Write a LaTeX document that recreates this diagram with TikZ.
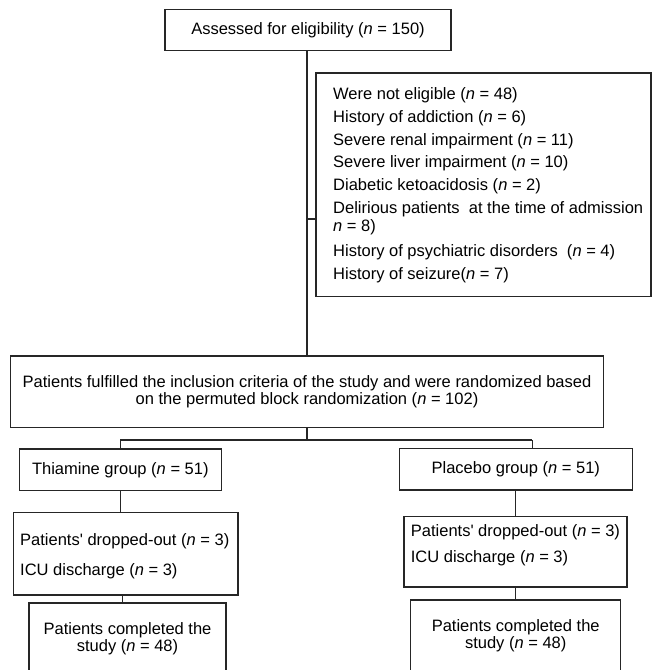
\documentclass[tikz,border=0pt]{standalone}
\usepackage{fontspec}
\setmainfont{Liberation Sans}
\begin{document}
\begin{tikzpicture}[x=1pt,y=-1pt,
  font=\fontsize{16.5}{17}\selectfont,
  box/.style={draw=black!85, line width=1.2pt, inner sep=0pt},
  conn/.style={draw=black!85, line width=1.2pt},
  trunk/.style={draw=black!85, line width=1.8pt},
  txt/.style={inner sep=0pt, anchor=west}]
\useasboundingbox (0,0) rectangle (652,670);
\clip (0,0) rectangle (652,670);

% boxes
\node[box, minimum width=286pt, minimum height=41pt] (assess) at (308,30) {Assessed for eligibility (\textit{n} = 150)};
\node[box, minimum width=335pt, minimum height=223.5pt] (excl) at (483.5,184.75) {};
\node[txt] (e1) at (333,95) {Were not eligible (\textit{n} = 48)};
\node[txt] (e2) at (333,118) {History of addiction (\textit{n} = 6)};
\node[txt] (e3) at (333,141) {Severe renal impairment (\textit{n} = 11)};
\node[txt] (e4) at (333,163.5) {Severe liver impairment (\textit{n} = 10)};
\node[txt] (e5) at (333,186) {Diabetic ketoacidosis (\textit{n} = 2)};
\node[txt] (e6) at (333,209.5) {Delirious patients\ \ at the time of admission};
\node[txt] (e7) at (333,227.5) {\textit{n} = 8)};
\node[txt] (e8) at (333,252.5) {History of psychiatric disorders\ \ (\textit{n} = 4)};
\node[txt] (e9) at (333,275.5) {History of seizure(\textit{n} = 7)};

\node[box, minimum width=592.6pt, minimum height=71.7pt, align=center] (rand) at (307,391.85)
  {Patients fulfilled the inclusion criteria of the study and were randomized based\\on the permuted block randomization (\textit{n} = 102)};

\node[box, minimum width=202pt, minimum height=41.7pt] (thia) at (120.3,469.85) {Thiamine group (\textit{n} = 51)};
\node[box, minimum width=233pt, minimum height=41.7pt] (plac) at (515.8,469.15) {Placebo group (\textit{n} = 51)};

\node[box, minimum width=224.7pt, minimum height=82.3pt] (dropL) at (125.65,553.85) {};
\node[txt] (dropLa) at (20,541.7) {Patients\textquotesingle\ dropped-out (\textit{n} = 3)};
\node[txt] (dropLb) at (20,571) {ICU discharge (\textit{n} = 3)};

\node[box, minimum width=223pt, minimum height=70.3pt] (dropR) at (515.5,551.85) {};
\node[txt] (dropRa) at (410.7,532.7) {Patients\textquotesingle\ dropped-out (\textit{n} = 3)};
\node[txt] (dropRb) at (410.7,558) {ICU discharge (\textit{n} = 3)};

\node[box, minimum width=197pt, minimum height=72pt, align=center] (compL) at (127.5,639)
  {Patients completed the\\study (\textit{n} = 48)};
\node[box, minimum width=210pt, minimum height=72pt, align=center] (compR) at (515.7,636)
  {Patients completed the\\study (\textit{n} = 48)};

% connectors
\draw[trunk] (assess.south -| rand.north) -- (rand.north);
\coordinate (br) at (307,219);
\draw[conn] (br) -- (br -| excl.west);
\coordinate (split) at (307,440);
\coordinate (splitL) at (120.3,440);
\coordinate (splitR) at (532.3,440);
\draw[conn] (rand.south) -- (split);
\draw[conn] (splitL) -- (splitR);
\draw[conn] (splitL) -- (thia.north);
\draw[conn] (splitR) -- (splitR |- plac.north);
\draw[conn] (thia.south) -- (thia.south |- dropL.north);
\draw[conn] (plac.south) -- (plac.south |- dropR.north);
\draw[conn] ([xshift=-3.35pt]dropL.south) -- ([xshift=-3.35pt]dropL.south |- compL.north);
\draw[conn] (dropR.south) -- (dropR.south |- compR.north);
\end{tikzpicture}
\end{document}
